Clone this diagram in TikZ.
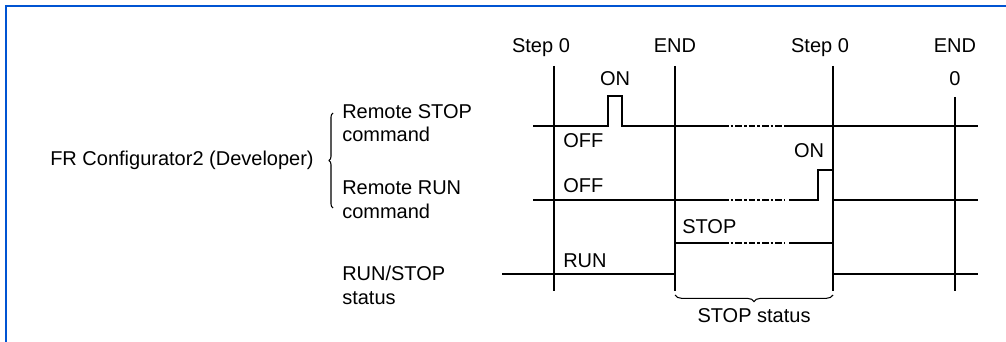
\documentclass[tikz,border=0pt]{standalone}
\usepackage{fontspec}
\setmainfont{Liberation Sans}
\usetikzlibrary{decorations.pathreplacing}
\definecolor{framecol}{RGB}{0,84,210}
\tikzset{
  sig/.style={line width=1.5pt},
  cut/.style={line width=1.5pt,dash pattern=on 5pt off 1.4pt on 2.2pt off 1.4pt},
  lbl/.style={inner sep=0pt,anchor=base},
  lblw/.style={inner sep=0pt,anchor=base west,align=left},
  brc/.style={decorate,line width=0.8pt},
}
\begin{document}
\begin{tikzpicture}[x=0.75pt,y=-0.75pt,font=\fontsize{15}{17.4}\selectfont]
\useasboundingbox (0,0) rectangle (1006,342);
\draw[framecol,line width=1.6pt] (6,342) -- (6,6) -- (1006,6);
% scan marks
\draw[sig] (554,66) -- (554,291);
\draw[sig] (675,66) -- (675,291);
\draw[sig] (833,66) -- (833,291);
\draw[sig] (955,97) -- (955,291);
\node[lbl] (s0a) at (541,53) {Step 0};
\node[lbl] (enda) at (675,53) {END};
\node[lbl] (s0b) at (820,53) {Step 0};
\node[lbl] (endb) at (955,53) {END};
\node[lbl] (zero) at (955,86) {0};
% remote STOP
\draw[sig] (533,126) -- (608,126) -- (608,96) -- (622,96) -- (622,126) -- (722,126);
\draw[cut] (722,126) -- (787,126);
\draw[sig] (787,126) -- (978,126);
\node[lbl] (stopon) at (615,86) {ON};
\node[lbl,anchor=base west] (stopoff) at (563,147) {OFF};
% remote RUN
\draw[sig] (533,200) -- (722,200);
\draw[cut] (722,200) -- (785,200);
\draw[sig] (789,200) -- (818,200) -- (818,170) -- (833,170);
\draw[sig] (833,200) -- (978,200);
\node[lbl] (runon) at (809,158) {ON};
\node[lbl,anchor=base west] (runoff) at (563,192) {OFF};
% RUN/STOP status
\draw[sig] (502,274) -- (675,274);
\draw[sig] (675,243) -- (722,243);
\draw[cut] (722,243) -- (785,243);
\draw[sig] (789,243) -- (833,243);
\draw[sig] (833,274) -- (978,274);
\node[lbl,anchor=base west] (stoplv) at (682,233) {STOP};
\node[lbl,anchor=base west] (runlv) at (563,267) {RUN};
\draw[brc,decoration={brace,amplitude=5pt}] (833,295) -- (675,295);
\node[lbl] (stopst) at (754,322) {STOP status};
% left labels
\node[lbl,anchor=base west] (dev) at (50,166) {FR Configurator2 (Developer)};
\draw[brc,decoration={brace,amplitude=3pt}] (333,208) -- (333,113);
\node[lblw] (rstop) at (342,142) {Remote STOP\\command};
\node[lblw] (rrun) at (342,218) {Remote RUN\\command};
\node[lblw] (rsst) at (342,304) {RUN/STOP\\status};
\end{tikzpicture}
\end{document}
